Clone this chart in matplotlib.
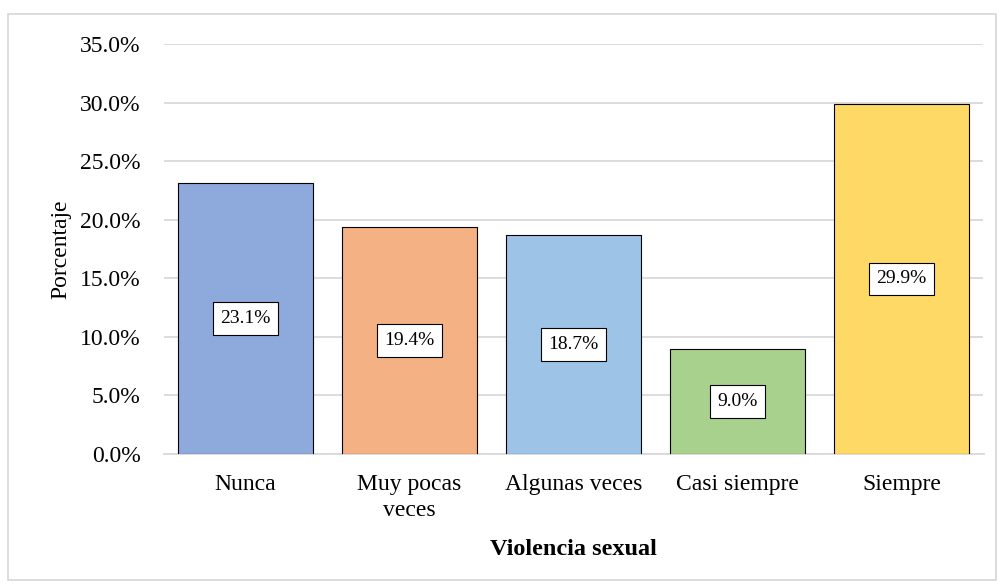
import matplotlib
matplotlib.use("Agg")
import matplotlib.pyplot as plt
from matplotlib.ticker import FuncFormatter, MultipleLocator
from matplotlib.patches import Rectangle

categories = ["Nunca", "Muy pocas\nveces", "Algunas veces", "Casi siempre", "Siempre"]
values = [23.1, 19.4, 18.7, 9.0, 29.9]
colors = ["#8EA9DB", "#F4B183", "#9DC3E6", "#A9D18E", "#FFD966"]

plt.rcParams['font.family'] = ['Liberation Serif', 'DejaVu Serif']

fig = plt.figure(figsize=(10, 5.87), dpi=100)
ax = fig.add_axes([0.1635, 1 - 454/587, 0.82, (454 - 44)/587])

x = list(range(len(categories)))
ax.bar(x, values, width=0.82, color=colors, edgecolor="black", linewidth=0.8, zorder=3)
for xi, v in zip(x, values):
    ax.text(xi, v / 2, f"{v:.1f}%", ha="center", va="center", fontsize=14, zorder=4,
            bbox=dict(boxstyle="square,pad=0.4", facecolor="white", edgecolor="black", linewidth=0.8))

ax.set_xlim(-0.5, len(categories) - 0.5)
ax.set_ylim(0, 35)
ax.yaxis.set_major_locator(MultipleLocator(5))
ax.yaxis.set_major_formatter(FuncFormatter(lambda v, p: f"{v:.1f}%"))
ax.grid(axis="y", color="#D9D9D9", linewidth=1.3, zorder=0)
ax.set_xticks(x)
ax.set_xticklabels(categories, fontsize=17, linespacing=1.3)
ax.tick_params(axis="both", length=0, labelsize=17)
ax.tick_params(axis="y", pad=16.5)
ax.tick_params(axis="x", pad=14.5)
for s in ["top", "right", "left"]:
    ax.spines[s].set_visible(False)
ax.spines["bottom"].set_color("#D9D9D9")
ax.spines["bottom"].set_linewidth(1.3)

ax.set_ylabel("Porcentaje", fontsize=17, labelpad=6)
ax.set_xlabel("Violencia sexual", fontsize=17.5, fontweight="bold", labelpad=13)

fig.patches.append(Rectangle((8/1000, 1 - 580/587), 988/1000, (580 - 14)/587,
                             transform=fig.transFigure, fill=False, edgecolor="#D9D9D9", linewidth=1.3))

fig.savefig("out.png", dpi=100, facecolor="white")
